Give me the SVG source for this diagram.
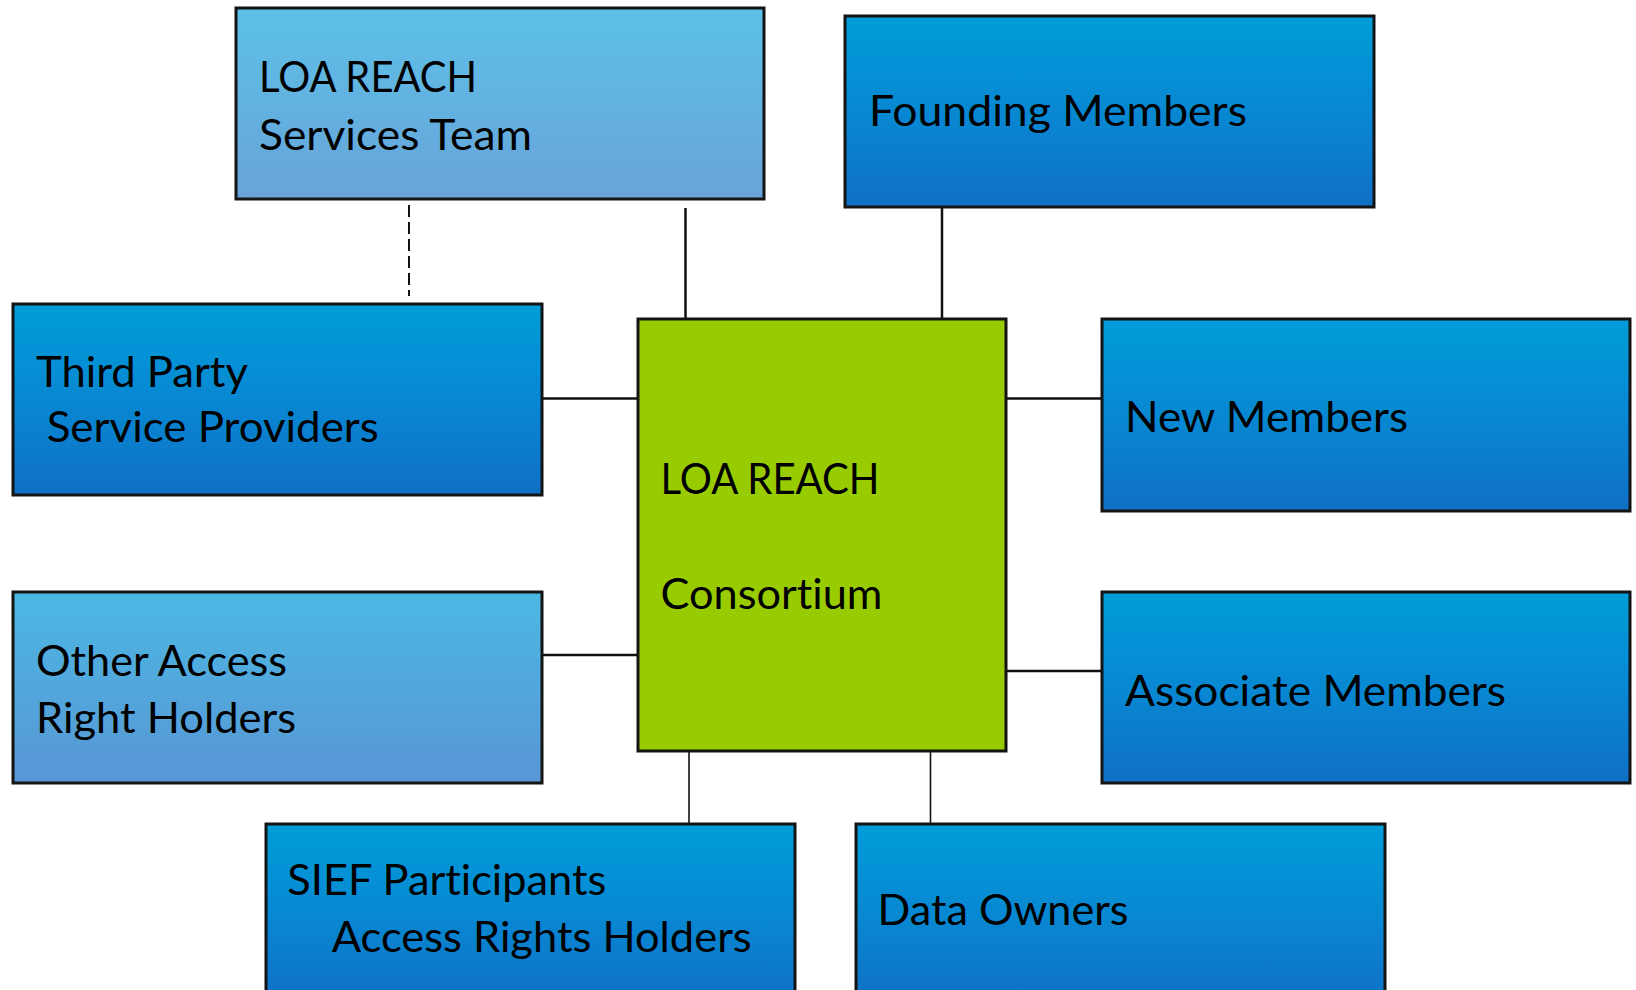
<svg xmlns="http://www.w3.org/2000/svg" width="1636" height="990" viewBox="0 0 1636 990">
<style>
.box{stroke:#141414;stroke-width:3}
.dark{fill:url(#gDark)}
.light{fill:url(#gLight)}
.light2{fill:url(#gLight2)}
.center{fill:#99cc00}
.t{font-family:Lato,"Open Sans","Liberation Sans",sans-serif;font-size:43px;fill:#000;font-variant-ligatures:none;font-feature-settings:"liga" 0}
.c{stroke:#111;stroke-width:2.5;fill:none}
.ct{stroke:#111;stroke-width:1.6;fill:none}
.dash{stroke:#111;stroke-width:2;stroke-dasharray:12 5;fill:none}
</style>
<defs>
<linearGradient id="gDark" x1="0" y1="0" x2="0" y2="1">
<stop offset="0" stop-color="#009dd9"/>
<stop offset="0.5" stop-color="#0888d2"/>
<stop offset="1" stop-color="#1070c6"/>
</linearGradient>
<linearGradient id="gLight" x1="0" y1="0" x2="0" y2="1">
<stop offset="0" stop-color="#5cc1e8"/>
<stop offset="1" stop-color="#68a3d9"/>
</linearGradient>
<linearGradient id="gLight2" x1="0" y1="0" x2="0" y2="1">
<stop offset="0" stop-color="#4cb8e3"/>
<stop offset="1" stop-color="#5896d5"/>
</linearGradient>
</defs>
<rect width="1636" height="990" fill="#fff"/>
<g id="connectors">
<line class="dash" x1="409" y1="205" x2="409" y2="296"/>
<line class="c" x1="685.5" y1="208" x2="685.5" y2="319"/>
<line class="c" x1="942" y1="207" x2="942" y2="319"/>
<line class="c" x1="542" y1="398.5" x2="638" y2="398.5"/>
<line class="c" x1="542" y1="655" x2="638" y2="655"/>
<line class="c" x1="1006" y1="398.5" x2="1102" y2="398.5"/>
<line class="c" x1="1006" y1="671" x2="1102" y2="671"/>
<line class="ct" x1="689" y1="748" x2="689" y2="824"/>
<line class="ct" x1="930.5" y1="748" x2="930.5" y2="824"/>
</g>
<g id="services-team">
<rect class="box light" x="236" y="8" width="528" height="191"/>
<text class="t" x="259" y="91.7" textLength="218" lengthAdjust="spacingAndGlyphs">LOA REACH</text>
<text class="t" x="259" y="150" textLength="273" lengthAdjust="spacingAndGlyphs">Services Team</text>
</g>
<g id="founding-members">
<rect class="box dark" x="845" y="16" width="529" height="191"/>
<text class="t" x="869" y="126" textLength="378" lengthAdjust="spacingAndGlyphs">Founding Members</text>
</g>
<g id="third-party">
<rect class="box dark" x="13" y="304" width="529" height="191"/>
<text class="t" x="36" y="386.7" textLength="212" lengthAdjust="spacingAndGlyphs">Third Party</text>
<text class="t" x="46.7" y="441.7" textLength="332" lengthAdjust="spacingAndGlyphs">Service Providers</text>
</g>
<g id="consortium">
<rect class="box center" x="638" y="319" width="368" height="432"/>
<text class="t" x="660.5" y="494" textLength="219" lengthAdjust="spacingAndGlyphs">LOA REACH</text>
<text class="t" x="660.5" y="608.7" textLength="222" lengthAdjust="spacingAndGlyphs">Consortium</text>
</g>
<g id="new-members">
<rect class="box dark" x="1102" y="319" width="528" height="192"/>
<text class="t" x="1125" y="431.7" textLength="283" lengthAdjust="spacingAndGlyphs">New Members</text>
</g>
<g id="other-access">
<rect class="box light2" x="13" y="592" width="529" height="191"/>
<text class="t" x="36" y="676" textLength="251" lengthAdjust="spacingAndGlyphs">Other Access</text>
<text class="t" x="36" y="733" textLength="260" lengthAdjust="spacingAndGlyphs">Right Holders</text>
</g>
<g id="associate-members">
<rect class="box dark" x="1102" y="592" width="528" height="191"/>
<text class="t" x="1125" y="706" textLength="381" lengthAdjust="spacingAndGlyphs">Associate Members</text>
</g>
<g id="sief">
<rect class="box dark" x="266" y="824" width="529" height="180"/>
<text class="t" x="287.3" y="895" textLength="319" lengthAdjust="spacingAndGlyphs">SIEF Participants</text>
<text class="t" x="331.7" y="951.7" textLength="420" lengthAdjust="spacingAndGlyphs">Access Rights Holders</text>
</g>
<g id="data-owners">
<rect class="box dark" x="856" y="824" width="529" height="180"/>
<text class="t" x="877.5" y="925" textLength="251" lengthAdjust="spacingAndGlyphs">Data Owners</text>
</g>
</svg>
